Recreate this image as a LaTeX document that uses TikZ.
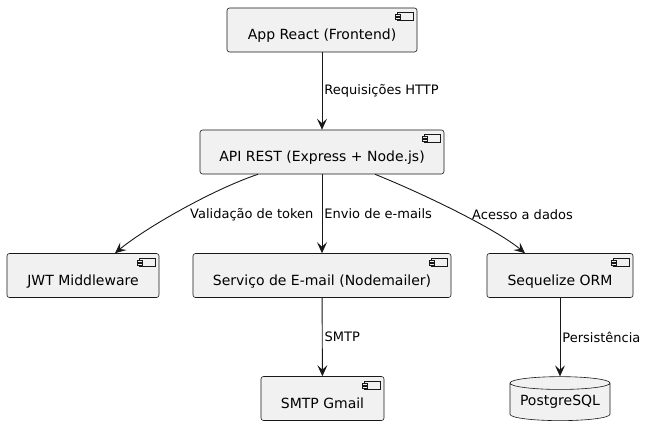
\documentclass[tikz,border=0pt]{standalone}
\usepackage{fontspec}
\setmainfont{DejaVu Sans}
\usepackage{tikz}
\usetikzlibrary{shapes.geometric, arrows.meta}
\definecolor{boxfill}{HTML}{F1F1F1}
\definecolor{boxline}{HTML}{181818}
\tikzset{
	comp/.style={draw=boxline, fill=boxfill, line width=0.6pt, rounded corners=2.5pt, minimum height=44pt, inner sep=0pt, text height=22pt, text depth=2pt, font=\fontsize{14}{16}\selectfont},
	conn/.style={draw=boxline, line width=0.9pt, -{Stealth[length=11pt, width=10pt, inset=4.5pt]}},
	lbl/.style={font=\fontsize{13}{15}\selectfont, inner sep=2pt, fill=none}
}
\newcommand{\compicon}[1]{
	\begin{scope}[shift={(#1.north east)}]
		\draw[boxline, fill=boxfill, line width=0.5pt] (-20,5) rectangle (-4,13);
		\draw[boxline, fill=boxfill, line width=0.5pt] (-22,7) rectangle (-17,9);
		\draw[boxline, fill=boxfill, line width=0.5pt] (-22,10) rectangle (-17,12);
	\end{scope}
}

\begin{document}
\begin{tikzpicture}[x=1pt, y=-1pt]
		\useasboundingbox (0,0) rectangle (646,438);
		% components
		\node[comp, minimum width=190pt] (app) at (322,30) {App React (Frontend)};
		\node[comp, minimum width=244pt] (api) at (322,152) {API REST (Express + Node.js)};
		\node[comp, minimum width=152pt] (jwt) at (83,275.5) {JWT Middleware};
		\node[comp, minimum width=258pt] (mail) at (322,275.5) {Serviço de E-mail (Nodemailer)};
		\node[comp, minimum width=146pt] (orm) at (560,275.5) {Sequelize ORM};
		\node[comp, minimum width=123pt] (smtp) at (322.5,398.5) {SMTP Gmail};
		\compicon{app}
		\compicon{api}
		\compicon{jwt}
		\compicon{mail}
		\compicon{orm}
		\compicon{smtp}
		% database
		\node[cylinder, shape border rotate=90, aspect=0.16, draw=boxline, fill=boxfill, line width=0.6pt, minimum width=100pt, minimum height=44pt, inner sep=0pt, font=\fontsize{14}{16}\selectfont] (db) at (560,402) {PostgreSQL};
		% connectors
		\draw[conn] (app) -- (api) node[lbl, midway, right] {Requisições HTTP};
		\draw[conn] ([xshift=-64pt]api.south) .. controls +(-45,15) and +(30,-25) .. ([xshift=32pt]jwt.north);
		\node[lbl, anchor=west] (token) at (188,215) {Validação de token};
		\draw[conn] (api) -- (mail) node[lbl, midway, right] {Envio de e-mails};
		\draw[conn] ([xshift=53pt]api.south) .. controls +(45,18) and +(-30,-25) .. ([xshift=-35pt]orm.north);
		\node[lbl, anchor=west] (dados) at (470,215) {Acesso a dados};
		\draw[conn] (mail) -- (smtp) node[lbl, midway, right] {SMTP};
		\draw[conn] (orm) -- (db.top) node[lbl, midway, right] {Persistência};
	\end{tikzpicture}
\end{document}
